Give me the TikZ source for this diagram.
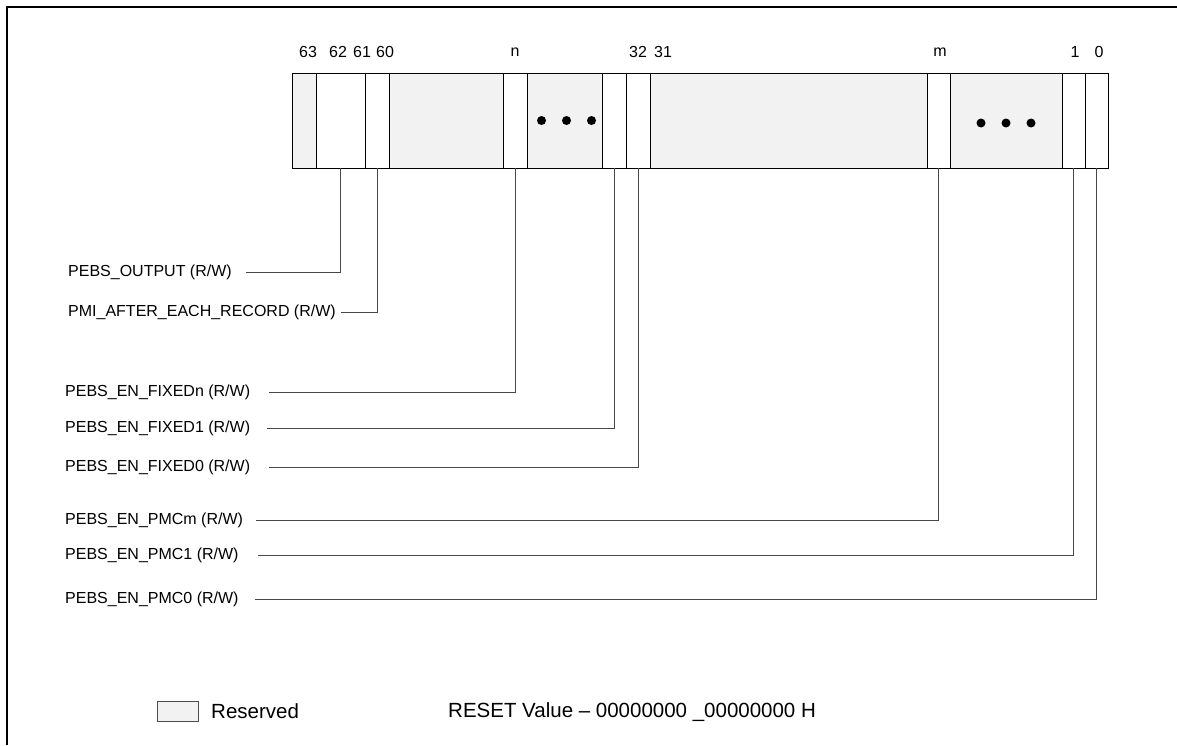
\documentclass[tikz,border=0pt]{standalone}
\usepackage{fontspec}
\setmainfont{Liberation Sans}
\usepackage{xcolor}
\definecolor{rsvdgray}{HTML}{F2F2F2}

\begin{document}
\begin{tikzpicture}[
	x=1pt, y=-1pt,
	cell/.style={
		draw, line width=0.9pt, rectangle,
		minimum height=95pt, inner sep=0pt, outer sep=0pt
	},
	bitbox/.style={cell, fill=white},
	rsvdbox/.style={cell, fill=rsvdgray},
	bitnum/.style={font=\fontsize{16}{18}\selectfont, inner sep=0pt},
	lbl/.style={font=\fontsize{16}{18}\selectfont, anchor=west, inner sep=0pt},
	conn/.style={draw=black!72, line width=0.9pt, shorten >=#1},
	conn/.default=16pt,
	frame/.style={line width=1.8pt},
	]
	\useasboundingbox (0,0) rectangle (1177,745);
	\draw[frame] (7,745) -- (7,7) -- (1177,7);
	\def\bary{120.5}
	% register cells
	\node[rsvdbox, minimum width=24pt]  (r63) at (304,\bary)    {};
	\node[bitbox,  minimum width=49pt]  (b62) at (340.5,\bary)  {};
	\node[bitbox,  minimum width=24pt]  (b60) at (377,\bary)    {};
	\node[rsvdbox, minimum width=114pt] (rA)  at (446,\bary)    {};
	\node[bitbox,  minimum width=24pt]  (bn)  at (515,\bary)    {};
	\node[rsvdbox, minimum width=75pt]  (rB)  at (564.5,\bary)  {};
	\node[bitbox,  minimum width=24pt]  (b33) at (614,\bary)    {};
	\node[bitbox,  minimum width=24pt]  (b32) at (638,\bary)    {};
	\node[rsvdbox, minimum width=277pt] (rC)  at (788.5,\bary)  {};
	\node[bitbox,  minimum width=23pt]  (bm)  at (938.5,\bary)  {};
	\node[rsvdbox, minimum width=112pt] (rD)  at (1006,\bary)   {};
	\node[bitbox,  minimum width=23pt]  (b1)  at (1073.5,\bary) {};
	\node[bitbox,  minimum width=23pt]  (b0)  at (1096.5,\bary) {};
	\foreach \d in {-23,2,27} \fill ([xshift=\d]rB.center) circle (4.5);
	\foreach \d in {-25,0,25} \fill ([xshift=\d,yshift=-2.5]rD.center) circle (4.5);
	% bit numbers
	\node[bitnum] (n63) at (308,52)  {63};
	\node[bitnum] (n62) at (338,52)  {62};
	\node[bitnum] (n61) at (362,52)  {61};
	\node[bitnum] (n60) at (385,52)  {60};
	\node[bitnum] (nn)  at (515,52)  {n};
	\node[bitnum] (n32) at (638,52)  {32};
	\node[bitnum] (n31) at (663,52)  {31};
	\node[bitnum] (nm)  at (940,52)  {m};
	\node[bitnum] (n1)  at (1075,52) {1};
	\node[bitnum] (n0)  at (1099,52) {0};
	% field labels
	\node[lbl] (lout)  at (68,272) {PEBS\_OUTPUT (R/W)};
	\node[lbl] (lpmi)  at (68,312) {PMI\_AFTER\_EACH\_RECORD (R/W)};
	\node[lbl] (lfixn) at (65,392) {PEBS\_EN\_FIXEDn (R/W)};
	\node[lbl] (lfix1) at (65,428) {PEBS\_EN\_FIXED1 (R/W)};
	\node[lbl] (lfix0) at (65,467) {PEBS\_EN\_FIXED0 (R/W)};
	\node[lbl] (lpmcm) at (65,520) {PEBS\_EN\_PMCm (R/W)};
	\node[lbl] (lpmc1) at (65,555) {PEBS\_EN\_PMC1 (R/W)};
	\node[lbl] (lpmc0) at (65,599) {PEBS\_EN\_PMC0 (R/W)};
	\draw[conn=14pt] (b62.south) |- (lout.east);
	\draw[conn=5pt]  (b60.south) |- (lpmi.east);
	\draw[conn=19pt] (bn.south)  |- (lfixn.east);
	\draw[conn=17pt] (b33.south) |- (lfix1.east);
	\draw[conn=19pt] (b32.south) |- (lfix0.east);
	\draw[conn=13pt] (bm.south)  |- (lpmcm.east);
	\draw[conn=19pt] (b1.south)  |- (lpmc1.east);
	\draw[conn=16pt] (b0.south)  |- (lpmc0.east);
	% legend
	\node[rsvdbox, line width=0.6pt, draw=black!70, minimum width=41pt, minimum height=20pt] (key) at (177.5,711) {};
	\node[font=\fontsize{20.5}{23}\selectfont, anchor=west, inner sep=0pt] (keytxt) at (211,711) {Reserved};
	\node[font=\fontsize{20.5}{23}\selectfont, anchor=west, inner sep=0pt] (reset) at (448,712) {RESET Value -- 00000000 \_00000000 H};
\end{tikzpicture}
\end{document}
